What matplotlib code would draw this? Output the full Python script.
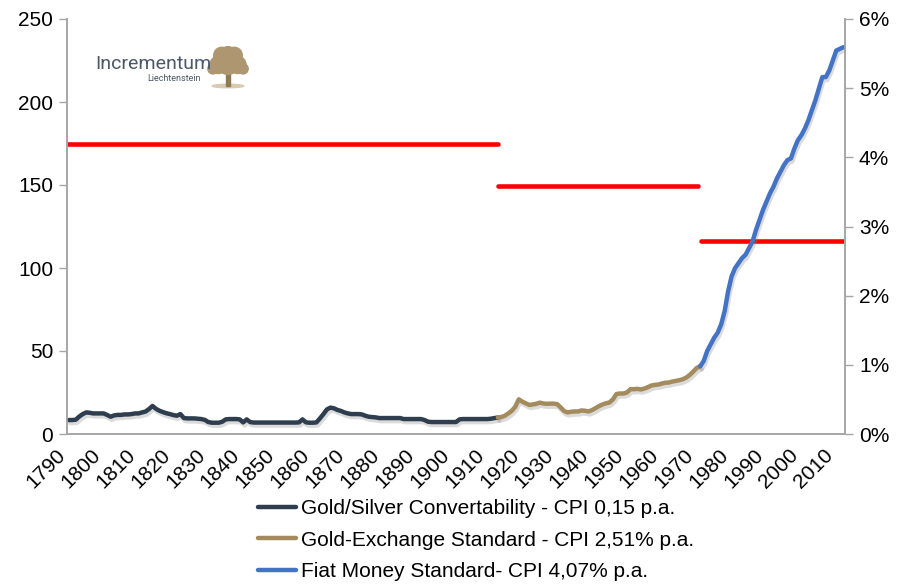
import matplotlib
matplotlib.use("Agg")
from matplotlib import pyplot as plt, patheffects as pe, transforms as mtrans
from matplotlib.patches import Circle, Ellipse, Rectangle
from matplotlib.ticker import FuncFormatter

plt.rcParams['font.family'] = ['Liberation Sans', 'DejaVu Sans']

DARK = '#2f3e4e'
GOLD = '#a38b5e'
BLUE = '#4472c4'
RED = '#ff0000'
AXISGRAY = '#a6a6a6'

# CPI index (yearly)
years_gold_silver = list(range(1790, 1914))
cpi_gold_silver = [
    8.4, 8.4, 8.6, 10.5, 12.0, 13.0, 12.8, 12.4, 12.4, 12.4,   # 1790s
    12.4, 11.5, 10.4, 11.2, 11.5, 11.5, 11.8, 11.8, 12.0, 12.4,  # 1800s
    12.4, 13.0, 13.5, 15.0, 16.9, 15.2, 14.0, 13.2, 12.5, 12.0,  # 1810s
    11.4, 11.0, 12.0, 9.6, 9.4, 9.4, 9.4, 9.2, 9.0, 8.5,       # 1820s
    7.2, 6.8, 6.8, 6.8, 7.4, 8.8, 9.0, 9.0, 9.0, 8.8,          # 1830s
    7.0, 8.8, 7.2, 6.9, 6.9, 6.9, 6.9, 6.9, 6.9, 6.9,          # 1840s
    6.9, 6.9, 6.9, 6.9, 6.9, 6.9, 7.0, 8.8, 7.0, 6.8,          # 1850s
    6.8, 7.0, 9.4, 12.0, 14.8, 15.9, 15.5, 14.5, 13.9, 13.0,   # 1860s
    12.4, 12.0, 12.0, 12.0, 11.8, 11.0, 10.4, 10.2, 10.0, 9.6, # 1870s
    9.6, 9.6, 9.6, 9.6, 9.6, 9.6, 9.0, 9.0, 9.0, 9.0,          # 1880s
    9.0, 9.0, 8.4, 7.4, 7.2, 7.2, 7.2, 7.2, 7.2, 7.2,          # 1890s
    7.2, 7.2, 8.8, 9.0, 9.0, 9.0, 9.0, 9.0, 9.0, 9.0,          # 1900s
    9.0, 9.2, 9.6, 9.9,                                        # 1910-1913
]

years_gold_exchange = list(range(1913, 1972))
cpi_gold_exchange = [
    9.9, 10.2, 11.0, 12.4, 14.0, 16.5, 20.9,                   # 1913-1919
    19.5, 18.5, 17.5, 17.8, 18.2, 18.9, 18.4, 18.2, 18.3, 18.3, # 1920s
    18.0, 16.0, 13.8, 13.0, 13.4, 13.6, 13.6, 14.2, 14.0, 13.6, # 1930s
    14.4, 15.6, 16.8, 17.8, 18.5, 19.0, 20.9, 24.1, 24.4, 24.4, # 1940s
    25.0, 27.0, 27.0, 27.2, 26.8, 27.4, 28.2, 29.2, 29.6, 29.8, # 1950s
    30.4, 30.9, 31.0, 31.6, 32.0, 32.4, 33.0, 34.0, 35.6, 37.6, # 1960s
    39.8, 40.8,                                                # 1970-1971
]

years_fiat = list(range(1971, 2013))
cpi_fiat = [
    40.8, 44, 50, 54, 58, 61, 66, 74, 86,                      # 1971-1979
    95, 100, 103, 106, 108, 112, 116, 123, 129, 135,           # 1980s
    140, 145, 149, 154, 158, 162, 165, 166, 172, 177,          # 1990s
    180, 184, 189, 195, 201, 208, 215, 215, 219, 225,          # 2000s
    231, 232, 233,                                             # 2010-2012
]

labels = ['Gold/Silver Convertability - CPI 0,15 p.a.',
          'Gold-Exchange Standard - CPI 2,51% p.a.',
          'Fiat Money Standard- CPI 4,07% p.a.']

# average inflation per regime (right axis, %)
regime_start = [1789.5, 1913, 1971.2]
regime_end = [1913, 1970.4, 2012.5]
regime_rate = [4.19, 3.585, 2.79]

fig = plt.figure(figsize=(9.1, 5.84), dpi=100)
ax = fig.add_axes([67 / 910, 1 - 434 / 584, 778 / 910, 415 / 584])
ax2 = ax.twinx()
ax.set_zorder(ax2.get_zorder() + 1)
ax.patch.set_visible(False)

shadow = [pe.SimpleLineShadow(offset=(1, -2.2), shadow_color='gray', alpha=0.28),
          pe.Normal()]
ax.plot(years_gold_silver, cpi_gold_silver, color=DARK, lw=3.2,
        label=labels[0], path_effects=shadow, solid_capstyle='round')
ax.plot(years_gold_exchange, cpi_gold_exchange, color=GOLD, lw=3.2,
        label=labels[1], path_effects=shadow, solid_capstyle='round')
ax.plot(years_fiat, cpi_fiat, color=BLUE, lw=3.2,
        label=labels[2], path_effects=shadow, solid_capstyle='round')

ax2.hlines(regime_rate, regime_start, regime_end, color=RED, lw=3.3,
           capstyle='round')

# axes formatting (category-style axis: years centred in their slots)
ax.set_xlim(1789.5, 2012.5)
ax.set_ylim(0, 250)
ax.set_yticks(range(0, 251, 50))
ax.set_xticks(range(1790, 2011, 10))
ax.set_xticklabels([str(y) for y in range(1790, 2011, 10)], rotation=45,
                   ha='right', va='top', rotation_mode='anchor')
ax.tick_params(axis='x', length=0, pad=8, labelsize=15)
ax.tick_params(axis='y', length=6, width=1, color=AXISGRAY, labelsize=15, pad=4)

# nudge the rotated year labels left so their ends sit at the year
shift = mtrans.ScaledTranslation(-13 / 100, 0, fig.dpi_scale_trans)
for lbl in ax.get_xticklabels():
    lbl.set_transform(lbl.get_transform() + shift)

ax2.set_ylim(0, 6)
ax2.set_yticks(range(0, 7))
ax2.yaxis.set_major_formatter(FuncFormatter(lambda v, p: '%d%%' % v))
ax2.tick_params(axis='y', length=6, width=1, color=AXISGRAY, labelsize=15, pad=4)

for a in (ax, ax2):
    a.spines['top'].set_visible(False)
    for s in ('left', 'right', 'bottom'):
        a.spines[s].set_color(AXISGRAY)
        a.spines[s].set_linewidth(1.2)

leg = ax.legend(loc='center left', bbox_to_anchor=(258 / 910, 1 - 540 / 584),
                bbox_transform=fig.transFigure, frameon=False, fontsize=15,
                handlelength=1.8, handletextpad=0.25, labelspacing=0.6,
                borderpad=0, borderaxespad=0)
for line in leg.get_lines():
    line.set_linewidth(3.2)
    line.set_path_effects([])

# logo
fig.text(95 / 910, 1 - 69 / 584, 'Incrementum', family=['Roboto', 'DejaVu Sans'],
         fontsize=14, color='#4a5868', ha='left', va='baseline')
fig.text(201 / 910, 1 - 81 / 584, 'Liechtenstein', family=['Roboto', 'DejaVu Sans'],
         fontsize=6.5, color='#4a5868', ha='right', va='baseline')
tree = fig.add_axes([207 / 910, 1 - 89 / 584, 42 / 910, 43 / 584])
tree.set_xlim(0, 1)
tree.set_ylim(0, 1)
tree.axis('off')
tree.add_patch(Ellipse((0.5, 0.07), 0.75, 0.08, color='#d6cab0'))
tree.add_patch(Rectangle((0.45, 0.08), 0.1, 0.35, color='#8f7a52'))
for cx, cy, r in [(0.5, 0.62, 0.28), (0.27, 0.56, 0.2), (0.73, 0.56, 0.2),
                  (0.35, 0.78, 0.19), (0.65, 0.78, 0.19), (0.5, 0.85, 0.14),
                  (0.14, 0.47, 0.12), (0.86, 0.47, 0.12)]:
    tree.add_patch(Circle((cx, cy), r, color='#ad9670'))

fig.savefig('out.png', dpi=100)
